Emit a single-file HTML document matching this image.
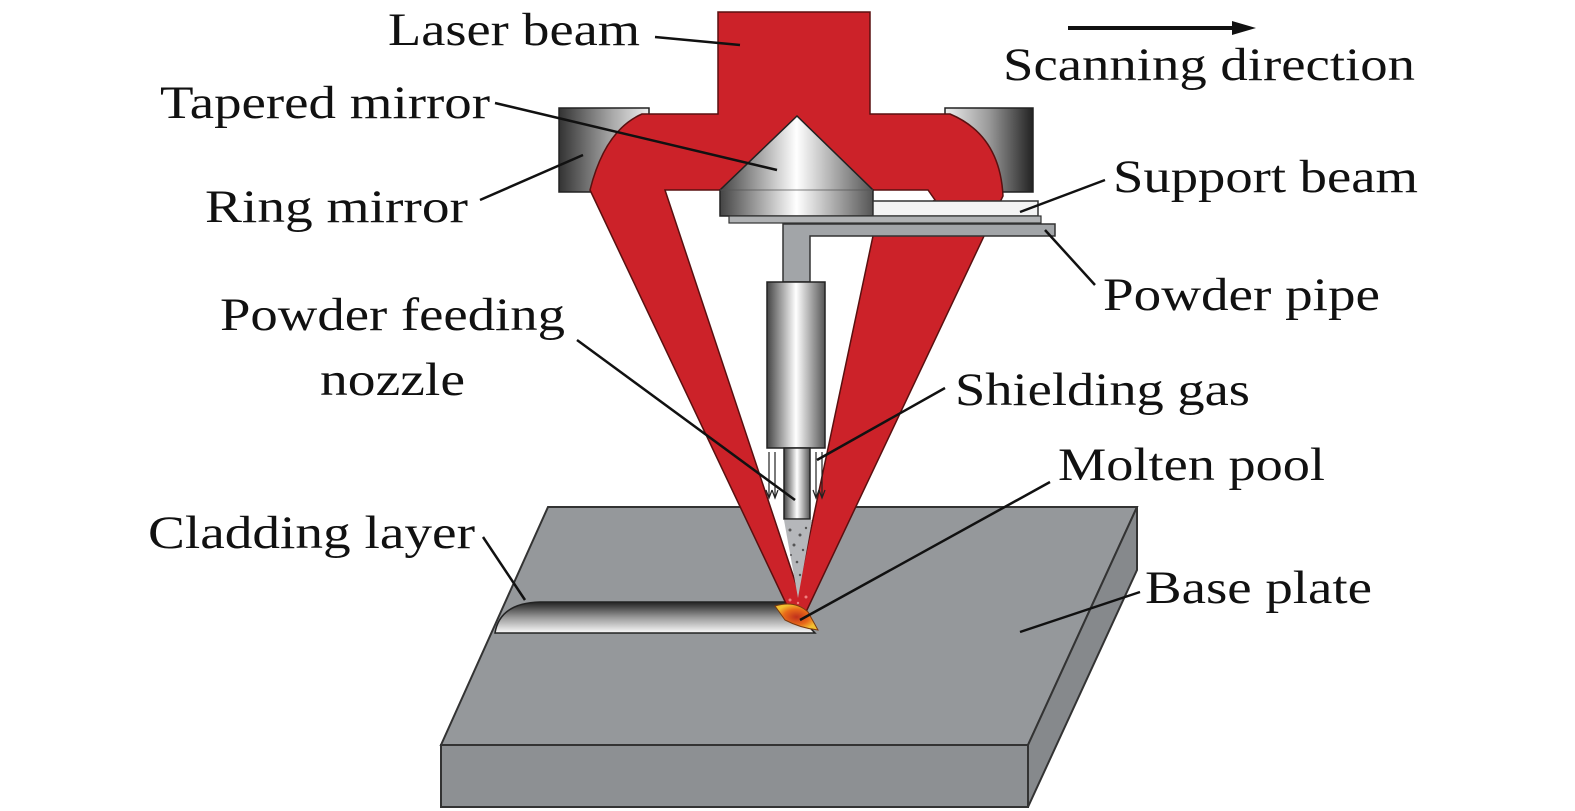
<!DOCTYPE html>
<html><head><meta charset="utf-8"><style>
html,body{margin:0;padding:0;background:#fff;}
svg{display:block;}
text{font-family:"Liberation Serif",serif;font-size:47px;fill:#111;}
</style></head><body>
<svg width="1575" height="811" viewBox="0 0 1575 811" xmlns="http://www.w3.org/2000/svg">
<defs>
<linearGradient id="mirL" x1="0" x2="1" y1="0" y2="0"><stop offset="0" stop-color="#333"/><stop offset="0.6" stop-color="#aaa"/><stop offset="1" stop-color="#eee"/></linearGradient>
<linearGradient id="mirR" x1="0" x2="1" y1="0" y2="0"><stop offset="0" stop-color="#eee"/><stop offset="0.5" stop-color="#999"/><stop offset="1" stop-color="#222"/></linearGradient>
<linearGradient id="cyl" x1="0" x2="1" y1="0" y2="0"><stop offset="0" stop-color="#444"/><stop offset="0.5" stop-color="#fff"/><stop offset="1" stop-color="#555"/></linearGradient>
<linearGradient id="clad" x1="0" x2="0" y1="0" y2="1"><stop offset="0" stop-color="#222"/><stop offset="0.5" stop-color="#999"/><stop offset="1" stop-color="#fafafa"/></linearGradient>
<radialGradient id="pool"><stop offset="0" stop-color="#c0301c"/><stop offset="0.6" stop-color="#e86a1a"/><stop offset="1" stop-color="#f2c030"/></radialGradient>
</defs>

<!-- base plate -->
<polygon points="548,507 1137,507 1028,745 441,745" fill="#95989b" stroke="#333" stroke-width="2"/>
<polygon points="441,745 1028,745 1028,807 441,807" fill="#8d9093" stroke="#333" stroke-width="2"/>
<polygon points="1137,507 1137,570 1028,807 1028,745" fill="#86898c" stroke="#333" stroke-width="2"/>
<!-- cladding track -->
<path d="M495,633 Q500,603 540,602 L785,602 L815,633 Z" fill="url(#clad)" stroke="#222" stroke-width="1.5"/>

<!-- ring mirrors -->
<rect x="559" y="108" width="90" height="84" fill="url(#mirL)" stroke="#222" stroke-width="1.5"/>
<rect x="945" y="108" width="88" height="84" fill="url(#mirR)" stroke="#222" stroke-width="1.5"/>

<!-- laser red -->
<path d="M718,12 L870,12 L870,114 L950,114 Q1000,135 1003,196 L806,612 L790,612 L590,190 Q605,130 642,114 L718,114 Z" fill="#cc2229" stroke="#5a1010" stroke-width="1.5"/>
<!-- inner white -->
<polygon points="665,190 928,190 935,200 873,236 798,590" fill="#fff" stroke="#5a1010" stroke-width="1.5"/>
<!-- powder cone -->
<polygon points="784,520 812,520 798,598" fill="#b5b7ba"/>
<g fill="#555">
<circle cx="790" cy="530" r="1.5"/><circle cx="800" cy="535" r="1.5"/><circle cx="806" cy="528" r="1.2"/><circle cx="794" cy="545" r="1.5"/><circle cx="803" cy="550" r="1.2"/><circle cx="797" cy="562" r="1.3"/><circle cx="800" cy="575" r="1.2"/><circle cx="791" cy="555" r="1"/>
</g>
<g fill="#f08080"><circle cx="790" cy="600" r="1.5"/><circle cx="806" cy="597" r="1.5"/><circle cx="798" cy="603" r="1.2"/></g>
<!-- melt pool -->
<path d="M775,606 Q795,600 808,612 L818,630 Q800,628 785,620 Z" fill="url(#pool)" stroke="#7a3a10" stroke-width="1"/>

<!-- tapered mirror -->
<path d="M797,116 L720,190 L720,216 L873,216 L873,190 Z" fill="url(#cyl)" stroke="#222" stroke-width="1.5"/>
<line x1="720" y1="190" x2="873" y2="190" stroke="#555" stroke-width="0.8"/>
<!-- support beam rod -->
<rect x="873" y="201" width="165" height="15" fill="#f4f4f4" stroke="#333" stroke-width="1.5"/>
<!-- support plate -->
<rect x="729" y="216" width="312" height="7" fill="#b0b2b4" stroke="#333" stroke-width="1.2"/>
<!-- powder pipe -->
<path d="M783,224 L1055,224 L1055,236 L810,236 L810,282 L783,282 Z" fill="#a2a5a8" stroke="#333" stroke-width="1.5"/>
<!-- nozzle -->
<rect x="767" y="282" width="58" height="166" fill="url(#cyl)" stroke="#222" stroke-width="1.5"/>
<rect x="784" y="448" width="26" height="71" fill="url(#cyl)" stroke="#222" stroke-width="1.5"/>
<!-- gas arrows -->
<g stroke="#222" stroke-width="1.2" fill="none">
<line x1="769" y1="452" x2="769" y2="497"/><line x1="775" y1="452" x2="775" y2="497"/>
<line x1="816" y1="452" x2="816" y2="497"/><line x1="822" y1="452" x2="822" y2="497"/>
<path d="M766,490 L769,498 L772,490 M772,490 L775,498 L778,490 M813,490 L816,498 L819,490 M819,490 L822,498 L825,490"/>
</g>

<!-- leader lines -->
<g stroke="#111" stroke-width="2.5" fill="none">
<line x1="655" y1="37" x2="740" y2="45"/>
<line x1="495" y1="103" x2="777" y2="170"/>
<line x1="480" y1="200" x2="583" y2="155"/>
<line x1="1105" y1="180" x2="1020" y2="212"/>
<line x1="1095" y1="285" x2="1045" y2="230"/>
<line x1="577" y1="340" x2="795" y2="500"/>
<line x1="945" y1="388" x2="817" y2="460"/>
<line x1="1050" y1="482" x2="800" y2="620"/>
<line x1="483" y1="537" x2="525" y2="600"/>
<line x1="1140" y1="592" x2="1020" y2="632"/>
</g>
<!-- scanning arrow -->
<line x1="1068" y1="28" x2="1235" y2="28" stroke="#111" stroke-width="4"/>
<polygon points="1232,21 1256,28 1232,35" fill="#111"/>

<!-- labels -->
<text x="388" y="45" textLength="252" lengthAdjust="spacingAndGlyphs">Laser beam</text>
<text x="1003" y="80" textLength="412" lengthAdjust="spacingAndGlyphs">Scanning direction</text>
<text x="160" y="118" textLength="330" lengthAdjust="spacingAndGlyphs">Tapered mirror</text>
<text x="205" y="222" textLength="263" lengthAdjust="spacingAndGlyphs">Ring mirror</text>
<text x="1113" y="192" textLength="305" lengthAdjust="spacingAndGlyphs">Support beam</text>
<text x="1103" y="310" textLength="277" lengthAdjust="spacingAndGlyphs">Powder pipe</text>
<text x="220" y="330" textLength="345" lengthAdjust="spacingAndGlyphs">Powder feeding</text>
<text x="320" y="395" textLength="145" lengthAdjust="spacingAndGlyphs">nozzle</text>
<text x="955" y="405" textLength="295" lengthAdjust="spacingAndGlyphs">Shielding gas</text>
<text x="1058" y="480" textLength="267" lengthAdjust="spacingAndGlyphs">Molten pool</text>
<text x="148" y="548" textLength="327" lengthAdjust="spacingAndGlyphs">Cladding layer</text>
<text x="1145" y="603" textLength="227" lengthAdjust="spacingAndGlyphs">Base plate</text>
</svg>
</body></html>
